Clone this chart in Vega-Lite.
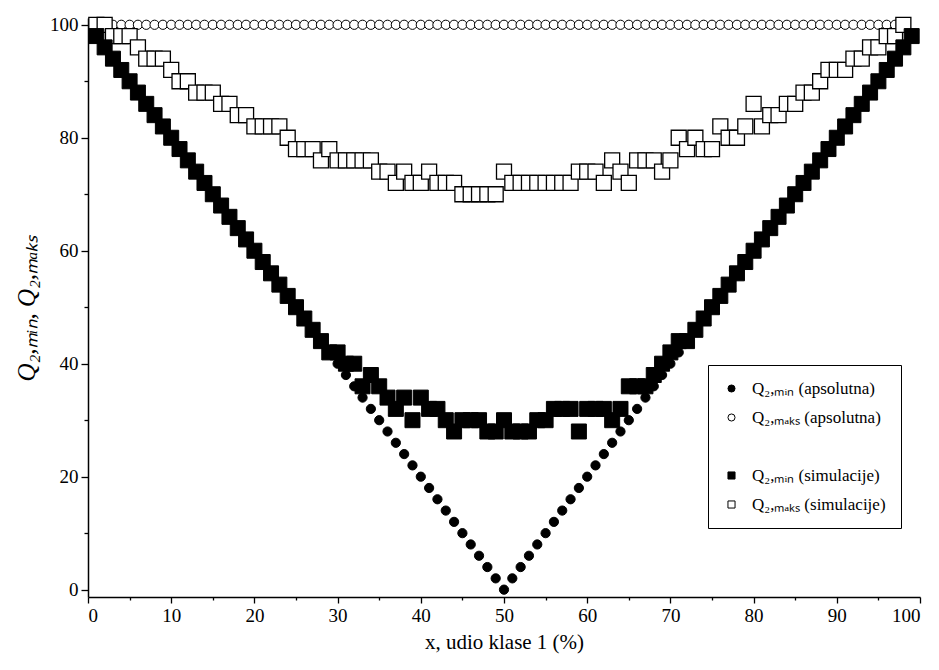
{
"$schema": "https://vega.github.io/schema/vega-lite/v6.json",
"width": 832, "height": 579,
"autosize": {"type": "none"},
"padding": {"left": 88, "top": 18, "right": 19, "bottom": 73},
"background": "white",
"config": {"view": {"stroke": null}, "axis": {"grid": false, "domainColor": "black", "domainWidth": 1.5, "tickColor": "black", "tickWidth": 1.3, "labelFont": "Liberation Serif", "labelFontSize": 19, "labelColor": "black", "titleFont": "Liberation Serif", "titleColor": "black", "titleFontWeight": "normal"}},
"data": {"values": [
{"x":3,"y":100,"s":"b"},{"x":4,"y":100,"s":"b"},{"x":5,"y":100,"s":"b"},{"x":6,"y":100,"s":"b"},{"x":7,"y":100,"s":"b"},{"x":8,"y":100,"s":"b"},{"x":9,"y":100,"s":"b"},{"x":10,"y":100,"s":"b"},{"x":11,"y":100,"s":"b"},{"x":12,"y":100,"s":"b"},{"x":13,"y":100,"s":"b"},{"x":14,"y":100,"s":"b"},{"x":15,"y":100,"s":"b"},{"x":16,"y":100,"s":"b"},{"x":17,"y":100,"s":"b"},{"x":18,"y":100,"s":"b"},{"x":19,"y":100,"s":"b"},{"x":20,"y":100,"s":"b"},{"x":21,"y":100,"s":"b"},{"x":22,"y":100,"s":"b"},{"x":23,"y":100,"s":"b"},{"x":24,"y":100,"s":"b"},{"x":25,"y":100,"s":"b"},{"x":26,"y":100,"s":"b"},{"x":27,"y":100,"s":"b"},{"x":28,"y":100,"s":"b"},{"x":29,"y":100,"s":"b"},{"x":30,"y":100,"s":"b"},{"x":31,"y":100,"s":"b"},{"x":32,"y":100,"s":"b"},{"x":33,"y":100,"s":"b"},{"x":34,"y":100,"s":"b"},{"x":35,"y":100,"s":"b"},{"x":36,"y":100,"s":"b"},{"x":37,"y":100,"s":"b"},{"x":38,"y":100,"s":"b"},{"x":39,"y":100,"s":"b"},{"x":40,"y":100,"s":"b"},{"x":41,"y":100,"s":"b"},{"x":42,"y":100,"s":"b"},{"x":43,"y":100,"s":"b"},{"x":44,"y":100,"s":"b"},{"x":45,"y":100,"s":"b"},{"x":46,"y":100,"s":"b"},{"x":47,"y":100,"s":"b"},{"x":48,"y":100,"s":"b"},{"x":49,"y":100,"s":"b"},{"x":50,"y":100,"s":"b"},{"x":51,"y":100,"s":"b"},{"x":52,"y":100,"s":"b"},{"x":53,"y":100,"s":"b"},{"x":54,"y":100,"s":"b"},{"x":55,"y":100,"s":"b"},{"x":56,"y":100,"s":"b"},{"x":57,"y":100,"s":"b"},{"x":58,"y":100,"s":"b"},{"x":59,"y":100,"s":"b"},{"x":60,"y":100,"s":"b"},{"x":61,"y":100,"s":"b"},{"x":62,"y":100,"s":"b"},{"x":63,"y":100,"s":"b"},{"x":64,"y":100,"s":"b"},{"x":65,"y":100,"s":"b"},{"x":66,"y":100,"s":"b"},{"x":67,"y":100,"s":"b"},{"x":68,"y":100,"s":"b"},{"x":69,"y":100,"s":"b"},{"x":70,"y":100,"s":"b"},{"x":71,"y":100,"s":"b"},{"x":72,"y":100,"s":"b"},{"x":73,"y":100,"s":"b"},{"x":74,"y":100,"s":"b"},{"x":75,"y":100,"s":"b"},{"x":76,"y":100,"s":"b"},{"x":77,"y":100,"s":"b"},{"x":78,"y":100,"s":"b"},{"x":79,"y":100,"s":"b"},{"x":80,"y":100,"s":"b"},{"x":81,"y":100,"s":"b"},{"x":82,"y":100,"s":"b"},{"x":83,"y":100,"s":"b"},{"x":84,"y":100,"s":"b"},{"x":85,"y":100,"s":"b"},{"x":86,"y":100,"s":"b"},{"x":87,"y":100,"s":"b"},{"x":88,"y":100,"s":"b"},{"x":89,"y":100,"s":"b"},{"x":90,"y":100,"s":"b"},{"x":91,"y":100,"s":"b"},{"x":92,"y":100,"s":"b"},{"x":93,"y":100,"s":"b"},{"x":94,"y":100,"s":"b"},{"x":95,"y":100,"s":"b"},{"x":96,"y":100,"s":"b"},{"x":97,"y":100,"s":"b"},
{"x":1,"y":100,"s":"d"},{"x":2,"y":100,"s":"d"},{"x":3,"y":98,"s":"d"},{"x":4,"y":98,"s":"d"},{"x":5,"y":98,"s":"d"},{"x":6,"y":96,"s":"d"},{"x":7,"y":94,"s":"d"},{"x":8,"y":94,"s":"d"},{"x":9,"y":94,"s":"d"},{"x":10,"y":92,"s":"d"},{"x":11,"y":90,"s":"d"},{"x":12,"y":90,"s":"d"},{"x":13,"y":88,"s":"d"},{"x":14,"y":88,"s":"d"},{"x":15,"y":88,"s":"d"},{"x":16,"y":86,"s":"d"},{"x":17,"y":86,"s":"d"},{"x":18,"y":84,"s":"d"},{"x":19,"y":84,"s":"d"},{"x":20,"y":82,"s":"d"},{"x":21,"y":82,"s":"d"},{"x":22,"y":82,"s":"d"},{"x":23,"y":82,"s":"d"},{"x":24,"y":80,"s":"d"},{"x":25,"y":78,"s":"d"},{"x":26,"y":78,"s":"d"},{"x":27,"y":78,"s":"d"},{"x":28,"y":76,"s":"d"},{"x":29,"y":78,"s":"d"},{"x":30,"y":76,"s":"d"},{"x":31,"y":76,"s":"d"},{"x":32,"y":76,"s":"d"},{"x":33,"y":76,"s":"d"},{"x":34,"y":76,"s":"d"},{"x":35,"y":74,"s":"d"},{"x":36,"y":74,"s":"d"},{"x":37,"y":72,"s":"d"},{"x":38,"y":74,"s":"d"},{"x":39,"y":72,"s":"d"},{"x":40,"y":72,"s":"d"},{"x":41,"y":74,"s":"d"},{"x":42,"y":72,"s":"d"},{"x":43,"y":72,"s":"d"},{"x":44,"y":72,"s":"d"},{"x":45,"y":70,"s":"d"},{"x":46,"y":70,"s":"d"},{"x":47,"y":70,"s":"d"},{"x":48,"y":70,"s":"d"},{"x":49,"y":70,"s":"d"},{"x":50,"y":74,"s":"d"},{"x":51,"y":72,"s":"d"},{"x":52,"y":72,"s":"d"},{"x":53,"y":72,"s":"d"},{"x":54,"y":72,"s":"d"},{"x":55,"y":72,"s":"d"},{"x":56,"y":72,"s":"d"},{"x":57,"y":72,"s":"d"},{"x":58,"y":72,"s":"d"},{"x":59,"y":74,"s":"d"},{"x":60,"y":74,"s":"d"},{"x":61,"y":74,"s":"d"},{"x":62,"y":72,"s":"d"},{"x":63,"y":76,"s":"d"},{"x":64,"y":74,"s":"d"},{"x":65,"y":72,"s":"d"},{"x":66,"y":76,"s":"d"},{"x":67,"y":76,"s":"d"},{"x":68,"y":76,"s":"d"},{"x":69,"y":74,"s":"d"},{"x":70,"y":76,"s":"d"},{"x":71,"y":80,"s":"d"},{"x":72,"y":78,"s":"d"},{"x":73,"y":80,"s":"d"},{"x":74,"y":78,"s":"d"},{"x":75,"y":78,"s":"d"},{"x":76,"y":82,"s":"d"},{"x":77,"y":80,"s":"d"},{"x":78,"y":80,"s":"d"},{"x":79,"y":82,"s":"d"},{"x":80,"y":86,"s":"d"},{"x":81,"y":82,"s":"d"},{"x":82,"y":84,"s":"d"},{"x":83,"y":84,"s":"d"},{"x":84,"y":86,"s":"d"},{"x":85,"y":86,"s":"d"},{"x":86,"y":88,"s":"d"},{"x":87,"y":88,"s":"d"},{"x":88,"y":90,"s":"d"},{"x":89,"y":92,"s":"d"},{"x":90,"y":92,"s":"d"},{"x":91,"y":92,"s":"d"},{"x":92,"y":94,"s":"d"},{"x":93,"y":94,"s":"d"},{"x":94,"y":96,"s":"d"},{"x":95,"y":96,"s":"d"},{"x":96,"y":98,"s":"d"},{"x":97,"y":98,"s":"d"},{"x":98,"y":100,"s":"d"},
{"x":1,"y":98,"s":"a"},{"x":2,"y":96,"s":"a"},{"x":3,"y":94,"s":"a"},{"x":4,"y":92,"s":"a"},{"x":5,"y":90,"s":"a"},{"x":6,"y":88,"s":"a"},{"x":7,"y":86,"s":"a"},{"x":8,"y":84,"s":"a"},{"x":9,"y":82,"s":"a"},{"x":10,"y":80,"s":"a"},{"x":11,"y":78,"s":"a"},{"x":12,"y":76,"s":"a"},{"x":13,"y":74,"s":"a"},{"x":14,"y":72,"s":"a"},{"x":15,"y":70,"s":"a"},{"x":16,"y":68,"s":"a"},{"x":17,"y":66,"s":"a"},{"x":18,"y":64,"s":"a"},{"x":19,"y":62,"s":"a"},{"x":20,"y":60,"s":"a"},{"x":21,"y":58,"s":"a"},{"x":22,"y":56,"s":"a"},{"x":23,"y":54,"s":"a"},{"x":24,"y":52,"s":"a"},{"x":25,"y":50,"s":"a"},{"x":26,"y":48,"s":"a"},{"x":27,"y":46,"s":"a"},{"x":28,"y":44,"s":"a"},{"x":29,"y":42,"s":"a"},{"x":30,"y":40,"s":"a"},{"x":31,"y":38,"s":"a"},{"x":32,"y":36,"s":"a"},{"x":33,"y":34,"s":"a"},{"x":34,"y":32,"s":"a"},{"x":35,"y":30,"s":"a"},{"x":36,"y":28,"s":"a"},{"x":37,"y":26,"s":"a"},{"x":38,"y":24,"s":"a"},{"x":39,"y":22,"s":"a"},{"x":40,"y":20,"s":"a"},{"x":41,"y":18,"s":"a"},{"x":42,"y":16,"s":"a"},{"x":43,"y":14,"s":"a"},{"x":44,"y":12,"s":"a"},{"x":45,"y":10,"s":"a"},{"x":46,"y":8,"s":"a"},{"x":47,"y":6,"s":"a"},{"x":48,"y":4,"s":"a"},{"x":49,"y":2,"s":"a"},{"x":50,"y":0,"s":"a"},{"x":51,"y":2,"s":"a"},{"x":52,"y":4,"s":"a"},{"x":53,"y":6,"s":"a"},{"x":54,"y":8,"s":"a"},{"x":55,"y":10,"s":"a"},{"x":56,"y":12,"s":"a"},{"x":57,"y":14,"s":"a"},{"x":58,"y":16,"s":"a"},{"x":59,"y":18,"s":"a"},{"x":60,"y":20,"s":"a"},{"x":61,"y":22,"s":"a"},{"x":62,"y":24,"s":"a"},{"x":63,"y":26,"s":"a"},{"x":64,"y":28,"s":"a"},{"x":65,"y":30,"s":"a"},{"x":66,"y":32,"s":"a"},{"x":67,"y":34,"s":"a"},{"x":68,"y":36,"s":"a"},{"x":69,"y":38,"s":"a"},{"x":70,"y":40,"s":"a"},{"x":71,"y":42,"s":"a"},{"x":72,"y":44,"s":"a"},{"x":73,"y":46,"s":"a"},{"x":74,"y":48,"s":"a"},{"x":75,"y":50,"s":"a"},{"x":76,"y":52,"s":"a"},{"x":77,"y":54,"s":"a"},{"x":78,"y":56,"s":"a"},{"x":79,"y":58,"s":"a"},{"x":80,"y":60,"s":"a"},{"x":81,"y":62,"s":"a"},{"x":82,"y":64,"s":"a"},{"x":83,"y":66,"s":"a"},{"x":84,"y":68,"s":"a"},{"x":85,"y":70,"s":"a"},{"x":86,"y":72,"s":"a"},{"x":87,"y":74,"s":"a"},{"x":88,"y":76,"s":"a"},{"x":89,"y":78,"s":"a"},{"x":90,"y":80,"s":"a"},{"x":91,"y":82,"s":"a"},{"x":92,"y":84,"s":"a"},{"x":93,"y":86,"s":"a"},{"x":94,"y":88,"s":"a"},{"x":95,"y":90,"s":"a"},{"x":96,"y":92,"s":"a"},{"x":97,"y":94,"s":"a"},{"x":98,"y":96,"s":"a"},{"x":99,"y":98,"s":"a"},
{"x":1,"y":98,"s":"c"},{"x":2,"y":96,"s":"c"},{"x":3,"y":94,"s":"c"},{"x":4,"y":92,"s":"c"},{"x":5,"y":90,"s":"c"},{"x":6,"y":88,"s":"c"},{"x":7,"y":86,"s":"c"},{"x":8,"y":84,"s":"c"},{"x":9,"y":82,"s":"c"},{"x":10,"y":80,"s":"c"},{"x":11,"y":78,"s":"c"},{"x":12,"y":76,"s":"c"},{"x":13,"y":74,"s":"c"},{"x":14,"y":72,"s":"c"},{"x":15,"y":70,"s":"c"},{"x":16,"y":68,"s":"c"},{"x":17,"y":66,"s":"c"},{"x":18,"y":64,"s":"c"},{"x":19,"y":62,"s":"c"},{"x":20,"y":60,"s":"c"},{"x":21,"y":58,"s":"c"},{"x":22,"y":56,"s":"c"},{"x":23,"y":54,"s":"c"},{"x":24,"y":52,"s":"c"},{"x":25,"y":50,"s":"c"},{"x":26,"y":48,"s":"c"},{"x":27,"y":46,"s":"c"},{"x":28,"y":44,"s":"c"},{"x":29,"y":42,"s":"c"},{"x":30,"y":42,"s":"c"},{"x":31,"y":40,"s":"c"},{"x":32,"y":40,"s":"c"},{"x":33,"y":36,"s":"c"},{"x":34,"y":38,"s":"c"},{"x":35,"y":36,"s":"c"},{"x":36,"y":34,"s":"c"},{"x":37,"y":32,"s":"c"},{"x":38,"y":34,"s":"c"},{"x":39,"y":30,"s":"c"},{"x":40,"y":34,"s":"c"},{"x":41,"y":32,"s":"c"},{"x":42,"y":32,"s":"c"},{"x":43,"y":30,"s":"c"},{"x":44,"y":28,"s":"c"},{"x":45,"y":30,"s":"c"},{"x":46,"y":30,"s":"c"},{"x":47,"y":30,"s":"c"},{"x":48,"y":28,"s":"c"},{"x":49,"y":28,"s":"c"},{"x":50,"y":30,"s":"c"},{"x":51,"y":28,"s":"c"},{"x":52,"y":28,"s":"c"},{"x":53,"y":28,"s":"c"},{"x":54,"y":30,"s":"c"},{"x":55,"y":30,"s":"c"},{"x":56,"y":32,"s":"c"},{"x":57,"y":32,"s":"c"},{"x":58,"y":32,"s":"c"},{"x":59,"y":28,"s":"c"},{"x":60,"y":32,"s":"c"},{"x":61,"y":32,"s":"c"},{"x":62,"y":32,"s":"c"},{"x":63,"y":30,"s":"c"},{"x":64,"y":32,"s":"c"},{"x":65,"y":36,"s":"c"},{"x":66,"y":36,"s":"c"},{"x":67,"y":36,"s":"c"},{"x":68,"y":38,"s":"c"},{"x":69,"y":40,"s":"c"},{"x":70,"y":42,"s":"c"},{"x":71,"y":44,"s":"c"},{"x":72,"y":44,"s":"c"},{"x":73,"y":46,"s":"c"},{"x":74,"y":48,"s":"c"},{"x":75,"y":50,"s":"c"},{"x":76,"y":52,"s":"c"},{"x":77,"y":54,"s":"c"},{"x":78,"y":56,"s":"c"},{"x":79,"y":58,"s":"c"},{"x":80,"y":60,"s":"c"},{"x":81,"y":62,"s":"c"},{"x":82,"y":64,"s":"c"},{"x":83,"y":66,"s":"c"},{"x":84,"y":68,"s":"c"},{"x":85,"y":70,"s":"c"},{"x":86,"y":72,"s":"c"},{"x":87,"y":74,"s":"c"},{"x":88,"y":76,"s":"c"},{"x":89,"y":78,"s":"c"},{"x":90,"y":80,"s":"c"},{"x":91,"y":82,"s":"c"},{"x":92,"y":84,"s":"c"},{"x":93,"y":86,"s":"c"},{"x":94,"y":88,"s":"c"},{"x":95,"y":90,"s":"c"},{"x":96,"y":92,"s":"c"},{"x":97,"y":94,"s":"c"},{"x":98,"y":96,"s":"c"},{"x":99,"y":98,"s":"c"}
]},
"encoding": {
"x": {"field": "x", "type": "quantitative", "scale": {"domain": [0, 100], "nice": false}, "axis": {"values": [0,5,10,15,20,25,30,35,40,45,50,55,60,65,70,75,80,85,90,95,100], "labelExpr": "datum.value % 10 === 0 ? datum.label : ''", "tickSize": {"condition": {"test": "datum.value % 10 === 0", "value": 6}, "value": 3}, "labelPadding": 3, "title": "x, udio  klase 1 (%)", "titleFontSize": 21, "titlePadding": 6}},
"y": {"field": "y", "type": "quantitative", "scale": {"domain": [-1.3, 101.2], "nice": false, "zero": false}, "axis": {"values": [0,10,20,30,40,50,60,70,80,90,100], "labelExpr": "datum.value % 20 === 0 ? datum.label : ''", "tickSize": {"condition": {"test": "datum.value % 20 === 0", "value": 7}, "value": 4}, "labelPadding": 3, "title": "Q₂,ₘᵢₙ, Q₂,ₘₐₖₛ", "titleFontSize": 25, "titleFontStyle": "italic", "titlePadding": 10}},
"shape": {"field": "s", "type": "nominal", "scale": {"domain": ["a","b","g","c","d"], "range": ["circle","circle","circle","square","square"]}, "legend": {"orient": "none", "legendX": 620, "legendY": 347, "title": null, "strokeColor": "black", "fillColor": "white", "padding": 15, "rowPadding": 11, "labelFont": "Liberation Serif", "labelFontSize": 17, "labelColor": "black", "symbolSize": 50, "symbolStrokeWidth": 1, "labelOffset": 12, "labelExpr": "datum.value === 'a' ? 'Q₂,ₘᵢₙ (apsolutna)' : datum.value === 'b' ? 'Q₂,ₘₐₖₛ (apsolutna)' : datum.value === 'c' ? 'Q₂,ₘᵢₙ (simulacije)' : datum.value === 'd' ? 'Q₂,ₘₐₖₛ (simulacije)' : ''"}},
"fill": {"field": "s", "type": "nominal", "scale": {"domain": ["a","b","g","c","d"], "range": ["black","white","transparent","black","white"]}},
"stroke": {"field": "s", "type": "nominal", "scale": {"domain": ["a","b","g","c","d"], "range": ["black","black","transparent","black","black"]}}
},
"layer": [
{"transform": [{"filter": "datum.s === 'b'"}], "mark": {"type": "point", "strokeWidth": 1, "opacity": 1, "size": 85}},
{"transform": [{"filter": "datum.s === 'd'"}], "mark": {"type": "point", "strokeWidth": 1.3, "opacity": 1, "size": 225}},
{"transform": [{"filter": "datum.s === 'a'"}], "mark": {"type": "point", "strokeWidth": 1, "opacity": 1, "size": 85}},
{"transform": [{"filter": "datum.s === 'c'"}], "mark": {"type": "point", "strokeWidth": 1, "opacity": 1, "size": 225}}
]
}
